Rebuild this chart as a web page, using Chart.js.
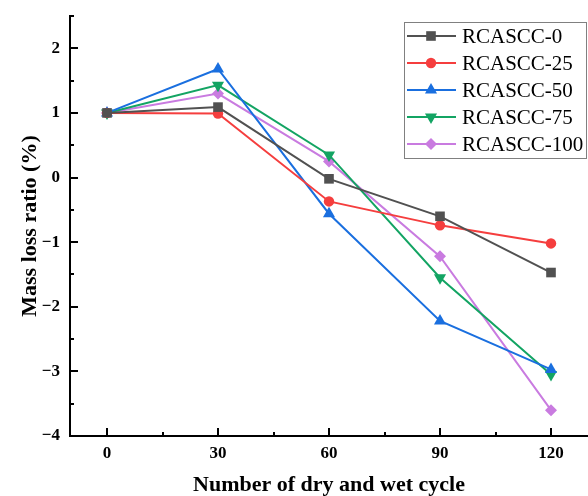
<!DOCTYPE html>
<html>
<head>
<meta charset="utf-8">
<script src="https://cdn.jsdelivr.net/npm/chart.js@4"></script>
<style>
  html, body { margin: 0; padding: 0; background: #fff; }
  #wrap { width: 588px; height: 496px; }
</style>
</head>
<body>
<div id="wrap"><canvas id="massLoss" width="588" height="496"></canvas></div>
<script>
// values
const cycles = [0, 30, 60, 90, 120];
const seriesNames = ['RCASCC-0', 'RCASCC-25', 'RCASCC-50', 'RCASCC-75', 'RCASCC-100'];
const rc0   = [1, 1.09, -0.02, -0.60, -1.47];
const rc25  = [1, 0.99, -0.37, -0.74, -1.02];
const rc50  = [1, 1.68, -0.56, -2.22, -2.97];
const rc75  = [1, 1.43, 0.35, -1.55, -3.05];
const rc100 = [1, 1.30, 0.25, -1.22, -3.60];
const xTicks = [0, 30, 60, 90, 120];
const xMinorTicks = [15, 45, 75, 105];
const yTicks = [-4, -3, -2, -1, 0, 1, 2];
const yMinorTicks = [-3.5, -2.5, -1.5, -0.5, 0.5, 1.5, 2.5];

const colors = ['#515151', '#f53e3e', '#1a6fdf', '#13a463', '#c97be0'];
const shapes = ['rect', 'circle', 'triangle', 'triangle', 'rectRot'];
const rotations = [0, 0, 0, 180, 0];
const radii = [6.8, 5.2, 7, 7, 6];

const allSeries = [rc0, rc25, rc50, rc75, rc100];

const datasets = allSeries.map((vals, i) => ({
  label: seriesNames[i],
  data: cycles.map((c, j) => ({ x: c, y: vals[j] })),
  borderColor: colors[i],
  backgroundColor: colors[i],
  borderWidth: 2,
  pointStyle: shapes[i],
  rotation: rotations[i],
  pointRadius: radii[i],
  pointHoverRadius: radii[i],
  pointBorderWidth: 0,
  tension: 0
}));

const serif = '"Liberation Serif", "Times New Roman", serif';

// inward tick marks, major + minor
const innerTicks = {
  id: 'innerTicks',
  afterDraw(chart) {
    const ctx = chart.ctx;
    const xs = chart.scales.x, ys = chart.scales.y;
    const x0 = xs.left, y0 = ys.bottom;
    ctx.save();
    ctx.strokeStyle = '#000';
    ctx.lineWidth = 2;
    ctx.beginPath();
    xTicks.forEach(v => { const px = Math.round(xs.getPixelForValue(v)); ctx.moveTo(px, y0); ctx.lineTo(px, y0 - 8); });
    xMinorTicks.forEach(v => { const px = Math.round(xs.getPixelForValue(v)); ctx.moveTo(px, y0); ctx.lineTo(px, y0 - 4); });
    yTicks.forEach(v => { const py = Math.round(ys.getPixelForValue(v)); ctx.moveTo(x0, py); ctx.lineTo(x0 + 8, py); });
    yMinorTicks.forEach(v => { const py = Math.round(ys.getPixelForValue(v)); ctx.moveTo(x0, py); ctx.lineTo(x0 + 4, py); });
    ctx.stroke();
    ctx.restore();
  }
};

// boxed legend inside the plot, top right
const boxLegend = {
  id: 'boxLegend',
  afterDraw(chart) {
    const ctx = chart.ctx;
    const left = 404, top = 22, right = 587, rowH = 27;
    const bottom = top + 14 + rowH * (chart.data.datasets.length - 1) + 14;
    ctx.save();
    ctx.fillStyle = '#fff';
    ctx.fillRect(left, top, right - left, bottom - top);
    ctx.strokeStyle = '#808080';
    ctx.lineWidth = 1;
    ctx.strokeRect(left + 0.5, top + 0.5, right - left - 1, bottom - top);
    chart.data.datasets.forEach((ds, i) => {
      const y = top + 14 + i * rowH;
      ctx.strokeStyle = ds.borderColor;
      ctx.lineWidth = 2;
      ctx.beginPath();
      ctx.moveTo(407, y);
      ctx.lineTo(456, y);
      ctx.stroke();
      ctx.fillStyle = ds.backgroundColor;
      if (Chart.helpers && Chart.helpers.drawPoint) {
        Chart.helpers.drawPoint(ctx, { pointStyle: ds.pointStyle, rotation: ds.rotation, radius: ds.pointRadius, borderWidth: 0 }, 431, y);
      }
      ctx.fillStyle = '#000';
      ctx.font = '21px ' + serif;
      ctx.textAlign = 'left';
      ctx.textBaseline = 'middle';
      ctx.fillText(ds.label, 462, y + 1);
    });
    ctx.restore();
  }
};

const minusLabel = v => (v < 0 ? '\u2212' + Math.abs(v) : String(v));

new Chart(document.getElementById('massLoss').getContext('2d'), {
  type: 'line',
  data: { datasets },
  options: {
    responsive: false,
    animation: false,
    events: [],
    layout: { autoPadding: false, padding: { left: 0, top: 16, right: 0, bottom: 0 } },
    plugins: { legend: { display: false }, tooltip: { enabled: false } },
    scales: {
      x: {
        type: 'linear',
        min: -10,
        max: 130,
        afterBuildTicks: s => { s.ticks = xTicks.map(v => ({ value: v })); },
        afterFit: s => { s.height = 60; s.paddingLeft = 0; s.paddingRight = 0; },
        grid: { display: false, drawTicks: false },
        border: { display: true, color: '#000', width: 2 },
        ticks: { color: '#000', padding: 7, font: { family: serif, size: 17, weight: 'bold' } },
        title: {
          display: true,
          text: 'Number of dry and wet cycle',
          color: '#000',
          padding: { top: 0, bottom: 0 },
          font: { family: serif, size: 22, weight: 'bold', lineHeight: 1 }
        }
      },
      y: {
        type: 'linear',
        min: -4,
        max: 2.5,
        afterBuildTicks: s => { s.ticks = yTicks.map(v => ({ value: v })); },
        afterFit: s => { s.width = 70; s.paddingTop = 0; s.paddingBottom = 0; },
        grid: { display: false, drawTicks: false },
        border: { display: true, color: '#000', width: 2 },
        ticks: { color: '#000', padding: 10, callback: minusLabel, font: { family: serif, size: 17, weight: 'bold' } },
        title: {
          display: true,
          text: 'Mass loss ratio (%)',
          color: '#000',
          padding: { top: 19, bottom: 0 },
          font: { family: serif, size: 22, weight: 'bold', lineHeight: 1 }
        }
      }
    }
  },
  plugins: [innerTicks, boxLegend]
});
</script>
</body>
</html>
